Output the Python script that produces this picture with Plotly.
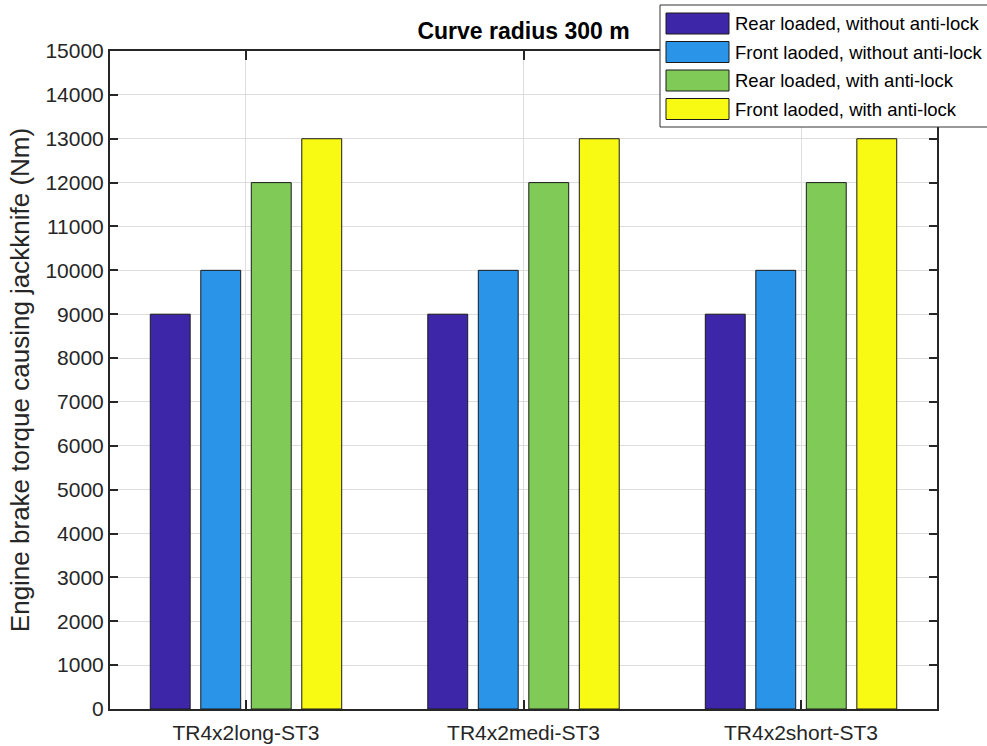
import plotly.graph_objects as go

# Vehicle combinations on the x axis
categories = ["TR4x2long-ST3", "TR4x2medi-ST3", "TR4x2short-ST3"]

# Engine brake torque (Nm) that causes jackknife, per load/anti-lock case
series_names = [
    "Rear loaded, without anti-lock",
    "Front laoded, without anti-lock",
    "Rear loaded, with anti-lock",
    "Front laoded, with anti-lock",
]
rear_no_abs = [9000, 9000, 9000]
front_no_abs = [10000, 10000, 10000]
rear_abs = [12000, 12000, 12000]
front_abs = [13000, 13000, 13000]
series_values = [rear_no_abs, front_no_abs, rear_abs, front_abs]

colors = ["#3E26A8", "#2A94E8", "#80CB58", "#F9FA14"]

y_ticks = list(range(0, 15001, 1000))

FONT = "Liberation Sans, Arial, sans-serif"
W, H = 987, 746
L, R, T, B = 110, 50, 51, 37
PW, PH = W - L - R, H - T - B

fig = go.Figure()
for name, vals, col in zip(series_names, series_values, colors):
    fig.add_trace(go.Bar(
        x=categories, y=vals, name=name,
        marker=dict(color=col, line=dict(color="#1a1a1a", width=1)),
        showlegend=False,
    ))

axis_col = "#262626"
fig.update_layout(
    width=W, height=H,
    margin=dict(l=L, r=R, t=T, b=B),
    paper_bgcolor="white", plot_bgcolor="white",
    barmode="group", bargap=0.272, bargroupgap=0.21,
    font=dict(family=FONT, color=axis_col, size=21),
    title=dict(text="<b>Curve radius 300 m</b>", x=(L + PW / 2) / W, xanchor="center",
               y=1 - 31 / H, yanchor="middle",
               font=dict(family=FONT, size=23, color="black")),
    xaxis=dict(
        range=[-0.49, 2.49], showline=True, linecolor=axis_col, linewidth=2,
        mirror="ticks", ticks="inside", ticklen=9, tickwidth=2, tickcolor=axis_col,
        showgrid=True, gridcolor="#dedede", gridwidth=1, automargin=False,
        ticklabelstandoff=4,
        tickfont=dict(size=21, family=FONT, color=axis_col),
    ),
    yaxis=dict(
        range=[0, 15000], tickvals=y_ticks, ticktext=[str(v) for v in y_ticks],
        showline=True, linecolor=axis_col, linewidth=2,
        mirror="ticks", ticks="inside", ticklen=8, tickwidth=2, tickcolor=axis_col,
        showgrid=True, gridcolor="#dedede", gridwidth=1, zeroline=False,
        automargin=False,
        tickfont=dict(size=21, family=FONT, color=axis_col),
        title=dict(text="Engine brake torque causing jackknife (Nm)",
                   font=dict(size=26, family=FONT, color=axis_col), standoff=8),
    ),
)


def px(x):
    return (x - L) / PW


def py(y):
    return (H - B - y) / PH


# Legend panel drawn over the top-right corner
shapes = [dict(type="rect", xref="paper", yref="paper",
               x0=px(660), x1=px(995), y0=py(127), y1=py(5),
               fillcolor="white", line=dict(color="#333333", width=1), layer="above")]
annotations = []
row_centers = [23.5, 52, 80.5, 109]
for name, col, yc in zip(series_names, colors, row_centers):
    shapes.append(dict(type="rect", xref="paper", yref="paper",
                       x0=px(666), x1=px(729), y0=py(yc + 10.5), y1=py(yc - 10.5),
                       fillcolor=col, line=dict(color="#1a1a1a", width=1), layer="above"))
    annotations.append(dict(xref="paper", yref="paper", x=px(733), y=py(yc),
                            xanchor="left", yanchor="middle", text=name, showarrow=False,
                            font=dict(family=FONT, size=18.5, color="black")))
fig.update_layout(shapes=shapes, annotations=annotations)

fig.write_html("out.html")
